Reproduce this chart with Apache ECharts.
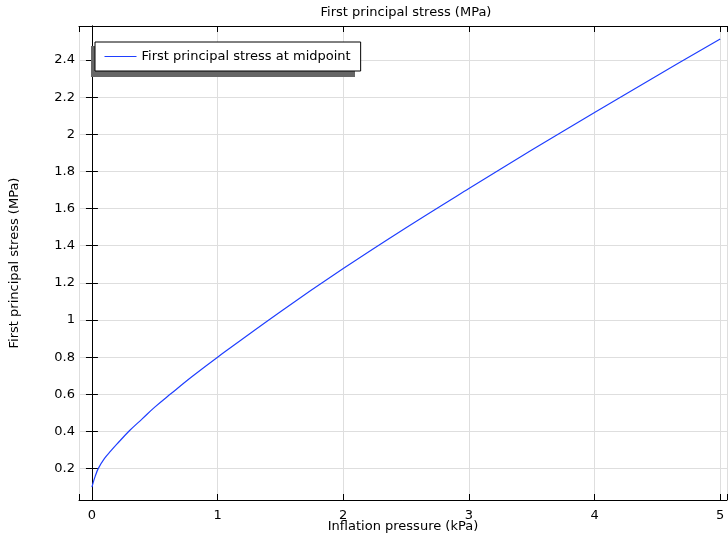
<html>
  <head>
    <meta charset="utf-8" />
    <title>First principal stress</title>
    <script type="text/javascript" src="https://cdn.jsdelivr.net/npm/echarts@6/dist/echarts.min.js"></script>
  </head>
  <body style="margin:0;">
      <div id="main" style="width:728px;height:537px;"></div>
      <script type="text/javascript">
        // inflation pressure (kPa)
        var pressure = [0, 0.012, 0.025, 0.05, 0.1, 0.15, 0.2, 0.3, 0.4, 0.5, 0.63, 0.8, 1, 1.5, 2, 2.5, 3, 3.5, 4, 4.5, 5];
        // first principal stress at midpoint (MPa)
        var stress = [0.1, 0.13, 0.157, 0.2, 0.255, 0.295, 0.333, 0.405, 0.468, 0.531, 0.604, 0.697, 0.8, 1.045, 1.277, 1.497, 1.708, 1.915, 2.117, 2.317, 2.513];

        var seriesName = 'First principal stress at midpoint';

        window.onload = function () {
            var myChart = echarts.init(document.getElementById('main'));
            var data = pressure.map((p, i) => [p, stress[i]]);

            var font = 'DejaVu Sans';
            var onStep = (v, step) => Math.abs(v / step - Math.round(v / step)) < 1e-6;

            var axisCommon = {
                type: 'value',
                axisLine: { show: true, lineStyle: { color: '#000', width: 1 } },
                axisTick: { show: true, inside: true, length: 6, lineStyle: { color: '#000' } },
            };

            var option = {
              animation: false,
              title: {
                  text: 'First principal stress (MPa)',
                  left: 406,
                  textAlign: 'center',
                  top: 6,
                  padding: 0,
                  textStyle: { fontFamily: font, fontSize: 13, fontWeight: 'normal', color: '#000' },
              },
              // drop shadow behind the legend box
              graphic: [{
                  type: 'rect',
                  left: 91,
                  top: 46,
                  z: 3,
                  shape: { width: 264, height: 31 },
                  style: { fill: '#666' },
              }],
              legend: {
                  left: 95,
                  top: 42,
                  z: 5,
                  padding: [8, 10, 8, 9],
                  itemWidth: 32,
                  itemHeight: 14,
                  backgroundColor: '#fff',
                  borderColor: '#000',
                  borderWidth: 1,
                  itemStyle: { opacity: 0 },
                  lineStyle: { width: 1 },
                  textStyle: { fontFamily: font, fontSize: 13, color: '#000' },
                  data: [seriesName],
              },
              grid: { left: 79, right: 1, top: 26, bottom: 37, containLabel: false, outerBoundsMode: 'none' },
              xAxis: [
                Object.assign({}, axisCommon, {
                  position: 'bottom',
                  min: -0.103,
                  max: 5.054,
                  splitNumber: 5,
                  name: 'Inflation pressure (kPa)',
                  nameLocation: 'middle',
                  nameGap: 20,
                  nameMoveOverlap: false,
                  nameTextStyle: { fontFamily: font, fontSize: 13, color: '#000' },
                  axisLabel: {
                      margin: 9,
                      fontFamily: font, fontSize: 13, color: '#000',
                      formatter: v => onStep(v, 1) ? String(Math.round(v)) : '',
                  },
                  splitLine: { show: true, lineStyle: { color: '#dedede', width: 1 } },
                }),
                Object.assign({}, axisCommon, {
                  position: 'top',
                  min: -0.103,
                  max: 5.054,
                  splitNumber: 5,
                  axisLabel: { show: false },
                  splitLine: { show: false },
                }),
              ],
              yAxis: [
                Object.assign({}, axisCommon, {
                  position: 'left',
                  min: 0.031,
                  max: 2.583,
                  splitNumber: 12,
                  name: 'First principal stress (MPa)',
                  nameLocation: 'middle',
                  nameGap: 58,
                  nameMoveOverlap: false,
                  nameTextStyle: { fontFamily: font, fontSize: 13, color: '#000' },
                  axisLabel: {
                      margin: 4,
                      fontFamily: font, fontSize: 13, color: '#000',
                      formatter: v => onStep(v, 0.2) ? String(+v.toFixed(1)) : '',
                  },
                  splitLine: { show: true, lineStyle: { color: '#dedede', width: 1 } },
                }),
                Object.assign({}, axisCommon, {
                  position: 'right',
                  min: 0.031,
                  max: 2.583,
                  splitNumber: 12,
                  axisLabel: { show: false },
                  splitLine: { show: false },
                }),
              ],
              series: [
                {
                  name: seriesName,
                  type: 'line',
                  symbol: 'none',
                  smooth: 0.4,
                  color: '#1f3fff',
                  lineStyle: { width: 1.2 },
                  data: data,
                }
              ]
            };
            myChart.setOption(option);
        };
      </script>
  </body>
</html>
